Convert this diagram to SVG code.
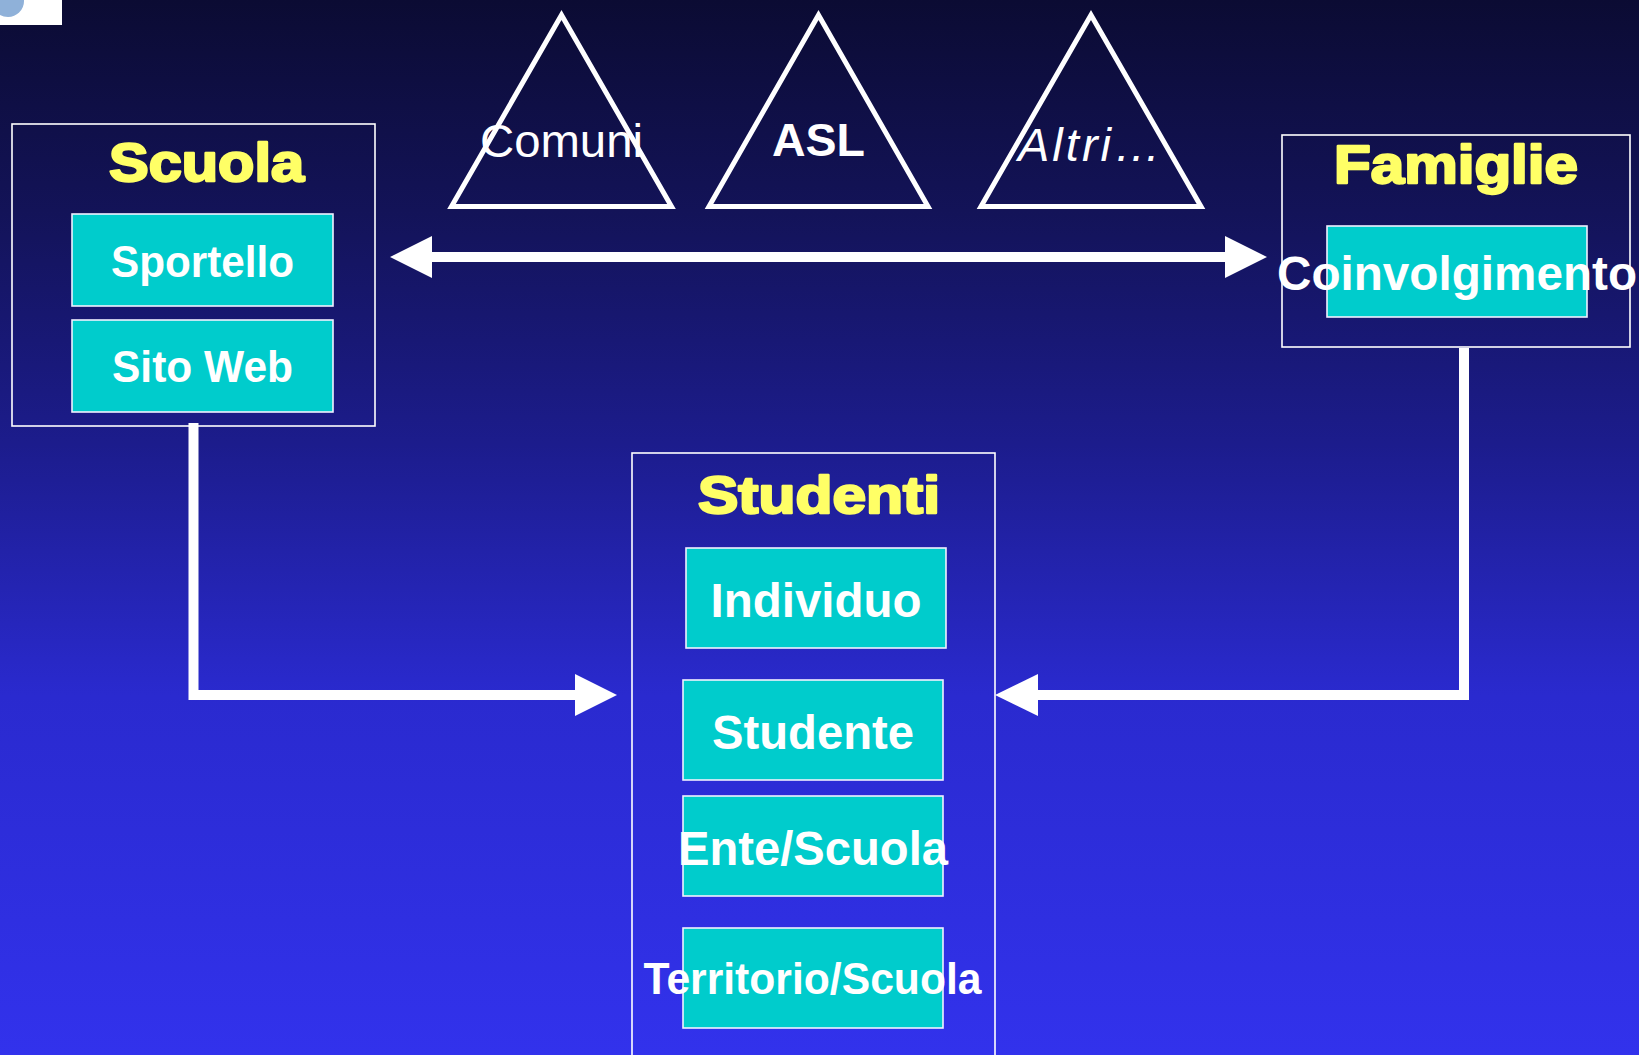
<svg xmlns="http://www.w3.org/2000/svg" width="1639" height="1055" viewBox="0 0 1639 1055">
  <defs>
    <linearGradient id="bg" x1="0" y1="0" x2="0" y2="1">
      <stop offset="0" stop-color="#0b0b33"/>
      <stop offset="0.2" stop-color="#131358"/>
      <stop offset="0.42" stop-color="#1c1c8c"/>
      <stop offset="0.66" stop-color="#2a2acf"/>
      <stop offset="1" stop-color="#3232ec"/>
    </linearGradient>
    <clipPath id="logoClip"><rect x="0" y="0" width="62" height="25"/></clipPath>
  </defs>
  <style>
    .frame { fill: none; stroke: #ffffff; stroke-width: 1.6; }
    .item { fill: #00cccc; stroke: #f0f0ff; stroke-width: 1.6; }
    .head { font-family: "Liberation Sans", Arial, sans-serif; font-weight: bold; fill: #ffff66; stroke: #ffff66; stroke-width: 2.4; stroke-linejoin: round; text-anchor: middle; }
    .lbl { font-family: "Liberation Sans", Arial, sans-serif; font-weight: bold; fill: #ffffff; text-anchor: middle; }
    .tri { fill: none; stroke: #ffffff; stroke-width: 5; stroke-linejoin: miter; }
    .tlbl { font-family: "Liberation Sans", Arial, sans-serif; fill: #ffffff; font-size: 47px; }
    .conn { fill: none; stroke: #ffffff; stroke-width: 10; stroke-linejoin: miter; }
    .head-arrow { fill: #ffffff; }
  </style>

  <rect x="0" y="0" width="1639" height="1055" fill="url(#bg)"/>

  <g id="logo">
    <rect x="0" y="0" width="62" height="25" fill="#ffffff"/>
    <circle cx="8" cy="1" r="16" fill="#8fb1d9" clip-path="url(#logoClip)"/>
  </g>

  <g id="connectors">
    <line class="conn" x1="430" y1="257" x2="1227" y2="257"/>
    <polygon class="head-arrow" points="390,257 432,236 432,278"/>
    <polygon class="head-arrow" points="1267,257 1225,236 1225,278"/>
    <polyline class="conn" points="193.5,423 193.5,695 577,695"/>
    <polygon class="head-arrow" points="617,695 575,674 575,716"/>
    <polyline class="conn" points="1464,348 1464,695 1036,695"/>
    <polygon class="head-arrow" points="995,695 1038,674 1038,716"/>
  </g>

  <g id="scuola">
    <rect class="frame" x="12" y="124" width="363" height="302"/>
    <text class="head" x="206.5" y="181" font-size="53" textLength="195" lengthAdjust="spacingAndGlyphs">Scuola</text>
    <g id="sportello">
      <rect class="item" x="72" y="214" width="261" height="92"/>
      <text class="lbl" x="202.5" y="276.5" font-size="44" textLength="183" lengthAdjust="spacingAndGlyphs">Sportello</text>
    </g>
    <g id="sito-web">
      <rect class="item" x="72" y="320" width="261" height="92"/>
      <text class="lbl" x="202.5" y="382" font-size="44" textLength="181" lengthAdjust="spacingAndGlyphs">Sito Web</text>
    </g>
  </g>

  <g id="comuni">
    <polygon class="tri" points="561.5,15 451.5,206.5 671.5,206.5"/>
    <text class="tlbl" x="561.5" y="157" text-anchor="middle" textLength="163" lengthAdjust="spacingAndGlyphs">Comuni</text>
  </g>

  <g id="asl">
    <polygon class="tri" points="818.5,15 709,206.5 928,206.5"/>
    <text class="tlbl" x="818.5" y="155.5" text-anchor="middle" font-weight="bold" font-size="46" textLength="93" lengthAdjust="spacingAndGlyphs">ASL</text>
  </g>

  <g id="altri">
    <polygon class="tri" points="1091,15 981,206.5 1201,206.5"/>
    <text class="tlbl" x="1018" y="161" font-style="italic" textLength="143">Altri…</text>
  </g>

  <g id="famiglie">
    <rect class="frame" x="1282" y="135" width="348" height="212"/>
    <text class="head" x="1456" y="183" font-size="53" textLength="244" lengthAdjust="spacingAndGlyphs">Famiglie</text>
    <g id="coinvolgimento">
      <rect class="item" x="1327" y="226" width="260" height="91"/>
      <text class="lbl" x="1457" y="290" font-size="48" textLength="360" lengthAdjust="spacingAndGlyphs">Coinvolgimento</text>
    </g>
  </g>

  <g id="studenti">
    <rect class="frame" x="632" y="453" width="363" height="620"/>
    <text class="head" x="819" y="512.5" font-size="52" textLength="242" lengthAdjust="spacingAndGlyphs">Studenti</text>
    <g id="individuo">
      <rect class="item" x="686" y="548" width="260" height="100"/>
      <text class="lbl" x="816" y="617" font-size="48" textLength="211" lengthAdjust="spacingAndGlyphs">Individuo</text>
    </g>
    <g id="studente">
      <rect class="item" x="683" y="680" width="260" height="100"/>
      <text class="lbl" x="813" y="749" font-size="48" textLength="202" lengthAdjust="spacingAndGlyphs">Studente</text>
    </g>
    <g id="ente-scuola">
      <rect class="item" x="683" y="796" width="260" height="100"/>
      <text class="lbl" x="813" y="864.5" font-size="48" textLength="270" lengthAdjust="spacingAndGlyphs">Ente/Scuola</text>
    </g>
    <g id="territorio-scuola">
      <rect class="item" x="683" y="928" width="260" height="100"/>
      <text class="lbl" x="812.5" y="994" font-size="44" textLength="338" lengthAdjust="spacingAndGlyphs">Territorio/Scuola</text>
    </g>
  </g>
</svg>
